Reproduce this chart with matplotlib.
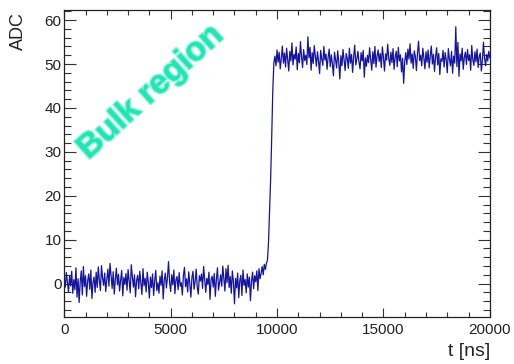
import numpy as np
import matplotlib
matplotlib.use("Agg")
import matplotlib.pyplot as plt
import matplotlib.patheffects as pe
from matplotlib.ticker import MultipleLocator

# Sampling step of the digitised waveform [ns]
dt = 50

# Pedestal before the signal arrives (t = 0 ... 9450 ns)
baseline = [
    1.2, -0.8, 2.5, 0.3, -1.9, 1.7, -0.5, 2.8, -2.2, 0.9,
    -1.4, 3.6, -3.1, 1.1, -4.3, 0.4, 2.9, -2.6, 3.9, -0.7,
    1.8, -2.9, 0.6, 2.2, -1.3, 3.1, -3.4, 0.2, 1.5, -2.0,
    2.6, -0.9, 3.8, 0.7, -1.6, 4.1, 1.3, -0.4, 2.4, -1.8,
    0.9, 3.3, -0.6, 4.6, 1.9, -1.1, 2.7, -2.4, 1.0, 3.5,
    -0.3, 2.1, -1.7, 0.8, 3.0, -2.8, 1.4, -0.2, 2.3, -1.5,
    3.2, 0.5, -2.1, 4.3, 1.6, -0.8, 2.0, -3.0, 0.7, 1.9,
    -1.2, 2.8, 0.1, -2.5, 3.4, -0.5, 1.2, -1.9, 2.6, 0.3,
    -3.3, 1.5, -0.9, 2.2, -2.7, 0.6, 3.0, -1.6, 0.2, -2.2,
    1.7, -0.4, 2.9, -3.5, 0.8, 2.4, -1.0, 1.3, 5.0, 0.4,
    -1.8, 2.0, -0.3, 3.1, -2.3, 0.9, 1.6, -1.4, 2.5, -0.6,
    0.2, -2.6, 1.9, 3.7, -0.7, 1.1, -1.9, 2.7, 0.0, -3.1,
    1.4, 2.8, -1.3, 0.5, 3.3, -0.9, -2.4, 1.8, 0.6, 2.2,
    -1.1, 3.9, 0.8, -2.0, 1.2, -0.2, 2.6, -3.6, 0.9, 1.7,
    -0.8, 2.3, -2.9, 1.0, 3.6, -1.5, 0.3, 2.0, -0.6, 4.0,
    1.1, -1.7, 3.4, 0.2, 4.2, -0.9, 1.6, -2.2, 2.9, 0.4,
    -4.6, 1.2, -1.0, 2.4, -3.2, 0.7, 1.9, -2.7, 3.1, -0.4,
    0.9, -2.1, 2.2, -0.8, 1.5, -3.9, 0.6, 2.6, -1.2, 1.8,
    0.4, 2.9, -1.6, 3.4, 1.1, 2.3, 3.9, 2.0, 4.4, 3.2,
]

# Leading edge (t = 9500 ... 9850 ns)
rise = [4.6, 5.3, 9.5, 16.5, 24.0, 33.5, 44.0, 50.2]

# Flat top after the step (t = 9900 ... 20000 ns)
plateau = [
    51.8, 49.6, 53.2, 50.4, 52.7, 48.9, 51.3, 54.1, 50.2, 52.5,
    49.3, 53.6, 51.0, 48.4, 52.9, 50.7, 54.8, 49.8, 52.2, 51.1,
    53.9, 48.7, 52.4, 50.3, 55.1, 51.6, 49.2, 53.3, 50.8, 52.0,
    49.9, 56.2, 51.4, 53.8, 48.6, 52.6, 50.1, 54.2, 51.7, 49.5,
    52.8, 50.6, 47.8, 53.1, 51.2, 49.7, 54.0, 50.9, 52.3, 48.8,
    51.5, 53.4, 49.4, 52.1, 50.0, 47.3, 52.7, 51.0, 49.1, 53.0,
    50.5, 46.6, 51.9, 49.6, 53.3, 50.8, 48.5, 52.4, 51.3, 49.0,
    53.6, 50.2, 52.2, 48.1, 51.7, 54.3, 49.8, 51.1, 52.9, 50.4,
    48.9, 52.6, 50.7, 53.1, 47.0, 51.4, 49.5, 52.0, 50.3, 53.7,
    51.0, 48.6, 52.8, 50.1, 54.0, 49.3, 51.8, 53.2, 50.6, 52.4,
    49.2, 53.9, 51.5, 48.4, 52.3, 50.9, 54.5, 51.2, 49.7, 52.7,
    50.3, 53.5, 48.8, 51.6, 52.9, 49.4, 53.8, 50.7, 52.1, 48.2,
    51.3, 45.6, 50.5, 52.6, 49.9, 53.4, 51.1, 54.6, 50.2, 52.3,
    49.0, 53.0, 51.7, 48.5, 52.5, 55.2, 50.8, 52.0, 49.6, 53.6,
    51.4, 48.9, 52.8, 50.4, 53.2, 49.1, 51.9, 54.1, 50.0, 52.2,
    48.3, 51.6, 53.7, 49.8, 52.4, 47.6, 51.2, 50.6, 53.1, 49.3,
    52.6, 50.9, 48.0, 53.5, 51.1, 49.6, 52.9, 47.9, 51.8, 50.2,
    58.5, 49.4, 54.9, 47.2, 52.3, 50.7, 53.6, 48.8, 51.5, 52.7,
    49.9, 53.3, 50.8, 52.1, 48.6, 54.2, 51.0, 49.7, 52.8, 50.5,
    53.4, 49.2, 51.7, 52.5, 48.4, 50.9, 55.0, 51.3, 49.6, 52.2,
    50.7, 52.9, 51.4,
]

adc = np.array(baseline + rise + plateau)
t = np.arange(len(adc)) * dt

x_label = "t [ns]"
y_label = "ADC"
annotation = "Bulk region"

plt.rcParams["font.family"] = ["Liberation Sans", "DejaVu Sans"]

fig = plt.figure(figsize=(5.14, 3.64), dpi=100)
ax = fig.add_axes([0.125, 0.128, 0.828, 0.8445])

ax.plot(t, adc, color="#14149e", lw=0.9)

ax.set_xlim(0, 20000)
ax.set_ylim(-7.7, 62.3)

ax.xaxis.set_major_locator(MultipleLocator(5000))
ax.xaxis.set_minor_locator(MultipleLocator(1000))
ax.yaxis.set_major_locator(MultipleLocator(10))
ax.yaxis.set_minor_locator(MultipleLocator(2))

ax.tick_params(axis="both", which="both", direction="in",
               top=True, right=True, color="#333333", width=0.8,
               labelsize=11, labelcolor="#222222")
ax.tick_params(axis="x", which="major", length=6.5, pad=4)
ax.tick_params(axis="x", which="minor", length=3.3)
ax.tick_params(axis="y", which="major", length=8.5, pad=2)
ax.tick_params(axis="y", which="minor", length=5)

for s in ax.spines.values():
    s.set_linewidth(0.9)
    s.set_color("#222222")

fig.text(0.953, 0.022, x_label, ha="right", va="baseline",
         fontsize=14, color="#222222")
fig.text(0.036, 0.967, y_label, ha="center", va="top", rotation=90,
         fontsize=13, color="#222222")

ax.text(4074, 43.6, annotation, rotation=42, ha="center", va="center",
        rotation_mode="anchor", fontsize=24, fontweight="bold",
        color="#1ee6b4",
        path_effects=[pe.withStroke(linewidth=2.0, foreground="#8ef2d8")])

fig.savefig("out.png", dpi=100)
